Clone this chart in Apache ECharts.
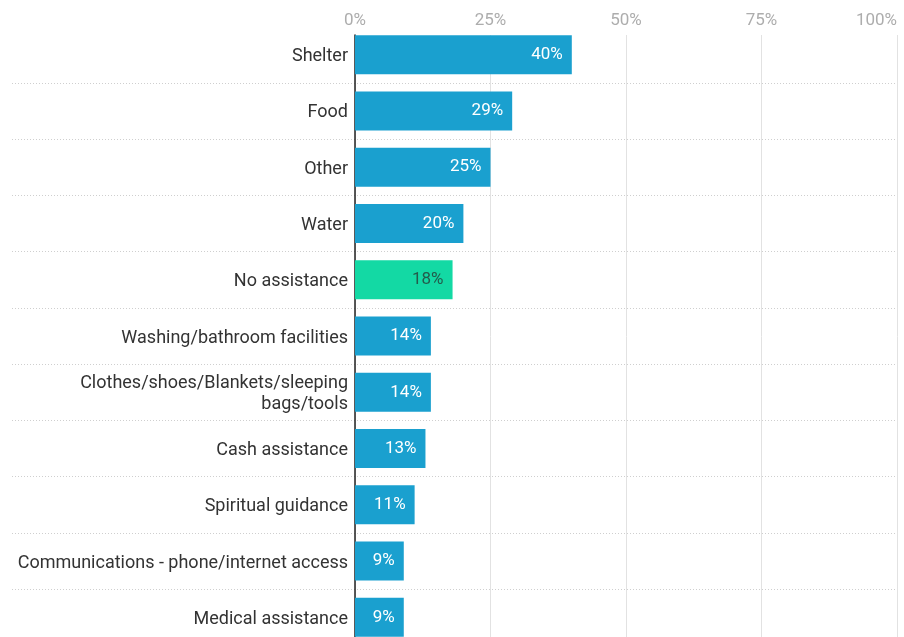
<!DOCTYPE html>
<html>
<head>
<meta charset="utf-8">
<script src="https://cdn.jsdelivr.net/npm/echarts@6/dist/echarts.min.js"></script>
<style>
  html, body { margin: 0; padding: 0; background: #fff; }
  #chart { width: 904px; height: 637px; }
</style>
</head>
<body>
<div id="chart"></div>
<script>
// Types of assistance received, share of respondents (%)
const categories = [
  'Shelter',
  'Food',
  'Other',
  'Water',
  'No assistance',
  'Washing/bathroom facilities',
  'Clothes/shoes/Blankets/sleeping\nbags/tools',
  'Cash assistance',
  'Spiritual guidance',
  'Communications - phone/internet access',
  'Medical assistance'
];
const values = [40, 29, 25, 20, 18, 14, 14, 13, 11, 9, 9];
const highlighted = ['No assistance'];
const tickValues = [0, 25, 50, 75, 100];

const BLUE = '#1aa0cf';
const GREEN = '#13d9a4';
const FONT = 'Roboto, "Noto Sans", sans-serif';

const chart = echarts.init(document.getElementById('chart'), null, { renderer: 'canvas' });

const barData = values.map((v, i) => {
  const hi = highlighted.includes(categories[i]);
  return {
    value: v,
    itemStyle: { color: hi ? GREEN : BLUE },
    label: { color: hi ? '#245b4b' : '#ffffff' }
  };
});

const PLOT_TOP = 26.5;
const PLOT_H = 619;

const option = {
  animation: false,
  backgroundColor: '#ffffff',
  textStyle: { fontFamily: FONT },
  grid: [
    // full-width band for dotted row separators
    { left: 12, right: 7, top: PLOT_TOP, height: PLOT_H, outerBoundsMode: 'none' },
    // bars
    { left: 355, right: 7, top: PLOT_TOP, height: PLOT_H, outerBoundsMode: 'none' },
    // vertical gridlines and the zero line
    { left: 355, right: 7, top: 35, height: PLOT_H, outerBoundsMode: 'none' },
    // category names, sitting a touch below the bar centres
    { left: 355, right: 7, top: PLOT_TOP + 2, height: PLOT_H, outerBoundsMode: 'none' }
  ],
  xAxis: [
    { gridIndex: 0, type: 'value', min: 0, max: 100, show: false },
    {
      gridIndex: 1, type: 'value', min: 0, max: 100, interval: 25,
      position: 'top',
      axisLine: { show: false }, axisTick: { show: false },
      splitLine: { show: false },
      axisLabel: {
        formatter: v => tickValues.includes(v) ? v + '%' : '',
        color: '#adadad', fontSize: 17, fontFamily: FONT, margin: -3,
        alignMaxLabel: 'right'
      }
    },
    {
      gridIndex: 2, type: 'value', min: 0, max: 100, interval: 25,
      axisLine: { show: false }, axisTick: { show: false },
      axisLabel: { show: false },
      splitLine: { show: true, lineStyle: { color: '#e2e2e2', width: 1 } }
    },
    { gridIndex: 3, type: 'value', min: 0, max: 100, show: false }
  ],
  yAxis: [
    {
      gridIndex: 0, type: 'category', data: categories, inverse: true,
      axisLine: { show: false }, axisTick: { show: false },
      axisLabel: { show: false },
      splitLine: {
        show: true,
        interval: (index) => index !== 0,
        lineStyle: { color: '#cfcfcf', type: [1, 2], width: 1 }
      }
    },
    {
      gridIndex: 1, type: 'category', data: categories, inverse: true,
      axisLine: { show: false }, axisTick: { show: false },
      splitLine: { show: false },
      axisLabel: { show: false }
    },
    {
      gridIndex: 2, type: 'value', min: 0, max: 1,
      axisLine: { show: true, lineStyle: { color: '#222222', width: 1.5 } },
      axisTick: { show: false }, axisLabel: { show: false },
      splitLine: { show: false }
    },
    {
      gridIndex: 3, type: 'category', data: categories, inverse: true,
      axisLine: { show: false }, axisTick: { show: false },
      splitLine: { show: false },
      axisLabel: {
        color: '#333333', fontSize: 18, fontFamily: FONT, margin: 7,
        align: 'right', lineHeight: 21
      }
    }
  ],
  series: [
    {
      type: 'bar',
      xAxisIndex: 1, yAxisIndex: 1,
      data: barData,
      barWidth: 39,
      z: 3,
      label: {
        show: true,
        position: 'insideRight',
        distance: 9,
        formatter: p => p.value + '%',
        fontSize: 17,
        fontFamily: FONT
      }
    }
  ]
};

chart.setOption(option);
</script>
</body>
</html>
